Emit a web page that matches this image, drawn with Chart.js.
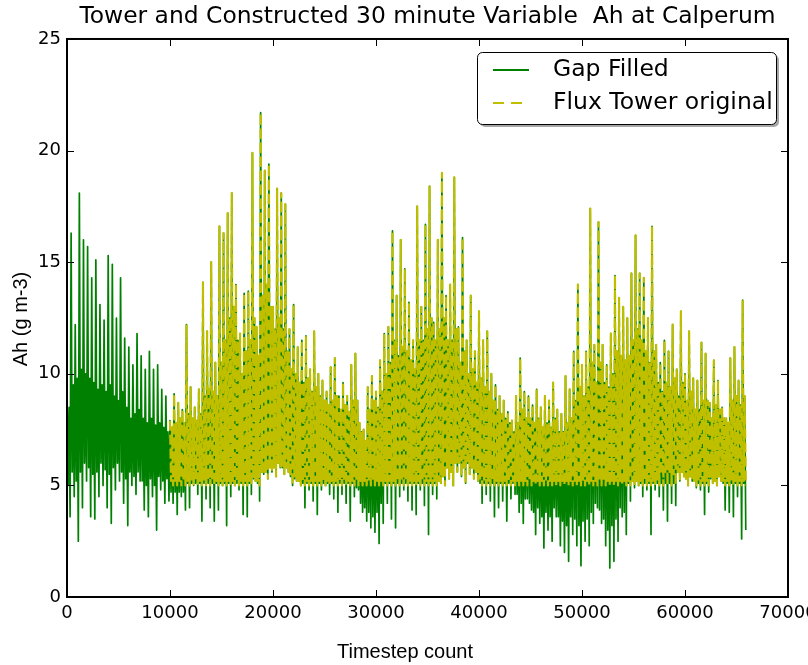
<!DOCTYPE html>
<html>
<head>
<meta charset="utf-8">
<script src="https://cdn.jsdelivr.net/npm/chart.js@4.4.1/dist/chart.umd.min.js"></script>
<style>
  html, body { margin: 0; padding: 0; background: #fff; }
  #wrap { width: 808px; height: 665px; }
</style>
</head>
<body>
<div id="wrap"><canvas id="c" width="808" height="665"></canvas></div>
<script>
/* Calperum Ah, 30 minute steps: gap-filled series vs flux tower original.
   The trace is far too dense to list point by point, so each 400-step bin
   keeps four readings: the highest spike, the lowest spike, and the top and
   bottom edge of the solid body of the trace in that bin. */
const BIN = 400;
const GAP_START = 0;
const TOWER_START = 10000;

// gap filled, bins 0..164 (t = 0 .. 66000)
const gapHigh = [
  9.0, 16.3, 12.2, 18.1, 16.0, 15.7, 14.3, 15.1, 13.1, 12.4, 15.3, 14.9, 12.5, 14.3, 11.6, 11.2, 10.4, 11.8, 10.8, 10.2, 11.0, 10.2, 10.4, 9.3, 9.0,
  7.9, 9.1, 8.7, 8.4, 12.2, 9.4, 8.5, 9.3, 14.1, 11.9, 15.0, 10.5, 16.6, 16.3, 17.2, 18.1, 14.0, 11.8, 13.6, 13.7, 19.9, 12.1, 21.7, 19.1, 19.4, 13.0, 18.3, 18.1, 17.6, 12.0, 13.1, 11.2, 11.5, 11.7, 10.2, 11.9,
  10.0, 9.7, 9.2, 10.3, 10.7, 9.0, 9.6, 9.0, 10.4, 10.9, 7.8, 7.5, 9.4, 9.9, 9.2, 10.6, 11.8, 12.1, 16.4, 13.5, 16.0, 14.7, 13.2, 11.5, 17.5, 13.0, 16.7, 18.4, 12.3, 16.0, 19.0, 13.5, 14.0, 18.8, 12.1, 16.1, 11.5, 13.5, 11.0, 12.8, 11.5, 11.9, 10.0, 9.5, 9.0, 8.8, 8.3, 7.9, 9.0, 10.7, 9.2, 9.0, 8.6, 9.3, 8.5, 9.0, 8.8, 9.6,
  8.4, 8.2, 9.9, 9.3, 11.0, 14.0, 10.4, 11.0, 17.4, 11.3, 16.8, 11.3, 10.4, 11.8, 14.4, 13.4, 13.0, 12.5, 14.5, 16.2, 14.5, 14.3, 12.5, 16.6, 11.3, 10.5, 11.5, 11.0, 12.2, 10.2, 12.8, 10.0, 11.9, 9.8, 9.7, 11.4, 10.9, 8.7, 10.6, 9.7, 8.5, 8.0, 10.7, 11.2, 9.7, 13.3
];
const gapTop = [
  8.5, 9.5, 9.8, 10.2, 10.0, 9.8, 9.6, 9.3, 9.5, 9.2, 9.5, 9.0, 8.8, 9.2, 8.5, 8.0, 8.2, 8.4, 8.0, 7.8, 8.0, 7.7, 7.8, 7.6, 7.4,
  7.6, 7.8, 8.0, 7.8, 8.2, 8.0, 7.9, 8.2, 9.0, 9.3, 9.2, 9.0, 10.5, 11.5, 12.5, 13.0, 11.5, 10.0, 11.0, 11.5, 12.5, 10.8, 13.5, 14.0, 13.0, 12.0, 12.5, 12.0, 11.0, 10.2, 10.0, 9.6, 9.6, 9.8, 9.2, 9.4,
  9.0, 8.8, 8.6, 8.8, 9.0, 8.4, 8.6, 8.3, 8.8, 8.8, 7.4, 7.0, 8.4, 8.8, 8.5, 9.2, 10.0, 10.5, 11.5, 10.8, 11.2, 11.0, 10.6, 10.2, 11.5, 11.5, 12.0, 12.5, 11.5, 12.0, 12.5, 11.5, 11.5, 12.0, 10.5, 11.0, 10.0, 10.2, 9.6, 9.8, 9.4, 9.2, 8.8, 8.4, 8.2, 8.0, 7.8, 7.4, 7.8, 8.4, 8.0, 8.0, 7.8, 8.0, 7.6, 7.8, 7.6, 8.0,
  7.4, 7.4, 7.8, 8.0, 8.8, 9.4, 9.0, 9.4, 10.5, 9.6, 10.5, 9.6, 9.4, 10.0, 11.0, 10.8, 10.6, 10.8, 11.5, 12.0, 11.5, 11.0, 10.5, 11.0, 9.6, 9.2, 9.6, 9.4, 9.8, 9.0, 9.6, 8.8, 9.2, 8.4, 8.4, 8.8, 8.8, 8.0, 8.6, 8.4, 8.0, 7.8, 8.8, 9.0, 8.6, 9.0
];
const gapBottom = [
  5.0, 5.6, 5.2, 5.6, 6.0, 5.8, 5.5, 5.6, 6.0, 5.7, 5.5, 5.8, 6.0, 5.6, 5.3, 5.6, 5.4, 5.6, 5.2, 5.0, 5.3, 5.0, 5.4, 5.2, 5.3,
  4.7, 4.7, 4.7, 4.7, 5.1, 5.1, 5.1, 5.1, 5.1, 5.1, 5.1, 5.1, 5.1, 5.1, 5.1, 5.1, 5.1, 5.1, 5.1, 5.1, 5.3, 5.1, 5.6, 5.6, 5.8, 5.8, 6.0, 5.8, 5.8, 5.4, 5.3, 5.2, 5.1, 5.1, 5.1, 5.1,
  5.1, 5.1, 5.1, 5.1, 5.1, 5.1, 5.1, 5.1, 5.1, 4.9, 4.2, 4.0, 3.8, 3.6, 3.8, 4.2, 5.1, 5.1, 5.1, 5.1, 5.1, 5.1, 5.1, 5.1, 5.1, 5.1, 5.1, 5.1, 5.1, 5.2, 5.4, 5.8, 5.6, 6.0, 6.0, 5.8, 6.0, 5.8, 5.6, 5.1, 5.1, 5.1, 5.1, 5.1, 5.1, 5.1, 5.1, 5.1, 4.6, 4.2, 4.4, 4.2, 3.8, 4.0, 3.6, 3.8, 3.6, 4.0,
  3.6, 3.4, 3.2, 3.6, 3.5, 3.2, 3.4, 3.5, 3.8, 4.2, 3.9, 3.5, 3.0, 3.2, 3.5, 4.0, 3.8, 5.1, 5.2, 5.2, 5.1, 5.1, 5.1, 5.1, 5.1, 5.1, 5.1, 5.1, 5.1, 5.6, 5.6, 5.3, 5.4, 5.2, 5.1, 5.1, 5.1, 5.3, 5.2, 5.4, 5.1, 5.1, 5.1, 5.1, 5.1, 5.1
];
const gapLow = [
  3.6, 4.5, 2.5, 4.0, 5.2, 3.6, 3.5, 4.5, 5.0, 4.0, 3.3, 4.8, 5.2, 4.2, 3.2, 5.0, 4.6, 5.2, 3.9, 3.6, 4.5, 3.0, 4.8, 4.2, 4.3,
  4.2, 3.7, 4.5, 3.9, 4.0, 5.0, 4.6, 3.4, 4.4, 4.0, 3.4, 3.9, 5.0, 3.2, 4.5, 5.0, 4.8, 3.7, 3.6, 4.6, 5.2, 4.3, 5.5, 5.3, 5.6, 5.4, 5.8, 5.5, 5.6, 5.0, 5.2, 5.0, 4.0, 4.8, 4.3, 3.7,
  4.8, 5.0, 4.6, 4.4, 3.8, 4.6, 4.2, 3.4, 4.5, 4.8, 3.8, 3.4, 3.1, 2.9, 2.4, 3.3, 4.2, 3.5, 3.1, 4.5, 4.8, 4.3, 3.9, 3.7, 4.8, 4.1, 2.8, 4.6, 4.4, 5.1, 5.0, 5.3, 5.0, 5.6, 5.4, 5.1, 5.5, 5.3, 5.2, 4.2, 4.6, 4.3, 3.6, 4.0, 4.3, 3.4, 4.4, 4.6, 3.8, 3.3, 4.4, 3.9, 2.8, 3.3, 2.2, 3.0, 2.5, 3.6,
  2.3, 2.0, 1.6, 2.8, 2.3, 1.4, 2.5, 2.3, 3.3, 4.0, 3.3, 2.3, 1.3, 1.6, 2.5, 3.6, 2.8, 4.3, 4.9, 5.0, 4.5, 4.8, 2.8, 4.8, 4.5, 3.9, 3.4, 4.2, 4.1, 5.2, 5.4, 5.0, 5.2, 4.9, 4.8, 3.7, 4.7, 5.1, 5.0, 5.2, 3.9, 3.8, 3.6, 4.5, 2.6, 3.0
];

// flux tower original, bins 25..164 (t = 10000 .. 66000); its floor sits at 5
const towerHigh = [
  7.9, 9.1, 8.7, 8.4, 12.2, 9.4, 8.5, 9.3, 14.1, 11.9, 15.0, 10.5, 16.6, 16.3, 17.2, 18.1, 14.0, 11.8, 13.6, 13.7, 19.9, 12.1, 21.7, 19.1, 19.4, 13.0, 18.3, 18.1, 17.6, 12.0, 13.1, 11.2, 11.5, 11.7, 10.2, 11.9,
  10.0, 9.7, 9.2, 10.3, 10.7, 9.0, 9.6, 9.0, 10.4, 10.9, 7.8, 7.5, 9.4, 9.9, 9.2, 10.6, 11.8, 12.1, 16.4, 13.5, 16.0, 14.7, 13.2, 11.5, 17.5, 13.0, 16.7, 18.4, 12.3, 16.0, 19.0, 13.5, 14.0, 18.8, 12.1, 16.1, 11.5, 13.5, 11.0, 12.8, 11.5, 11.9, 10.0, 9.5, 9.0, 8.8, 8.3, 7.9, 9.0, 10.7, 9.2, 9.0, 8.6, 9.3, 8.5, 9.0, 8.8, 9.6,
  8.4, 8.2, 9.9, 9.3, 11.0, 14.0, 10.4, 11.0, 17.4, 11.3, 16.8, 11.3, 10.4, 11.8, 14.4, 13.4, 13.0, 12.5, 14.5, 16.2, 14.5, 14.3, 12.5, 16.6, 11.3, 10.5, 11.5, 11.0, 12.2, 10.2, 12.8, 10.0, 11.9, 9.8, 9.7, 11.4, 10.9, 8.7, 10.6, 9.7, 8.5, 8.0, 10.7, 11.2, 9.7, 13.3
];
const towerTop = [
  7.6, 7.8, 8.0, 7.8, 8.2, 8.0, 7.9, 8.2, 9.0, 9.3, 9.2, 9.0, 10.5, 11.5, 12.5, 13.0, 11.5, 10.0, 11.0, 11.5, 12.5, 10.8, 13.5, 14.0, 13.0, 12.0, 12.5, 12.0, 11.0, 10.2, 10.0, 9.6, 9.6, 9.8, 9.2, 9.4,
  9.0, 8.8, 8.6, 8.8, 9.0, 8.4, 8.6, 8.3, 8.8, 8.8, 7.4, 7.0, 8.4, 8.8, 8.5, 9.2, 10.0, 10.5, 11.5, 10.8, 11.2, 11.0, 10.6, 10.2, 11.5, 11.5, 12.0, 12.5, 11.5, 12.0, 12.5, 11.5, 11.5, 12.0, 10.5, 11.0, 10.0, 10.2, 9.6, 9.8, 9.4, 9.2, 8.8, 8.4, 8.2, 8.0, 7.8, 7.4, 7.8, 8.4, 8.0, 8.0, 7.8, 8.0, 7.6, 7.8, 7.6, 8.0,
  7.4, 7.4, 7.8, 8.0, 8.8, 9.4, 9.0, 9.4, 10.5, 9.6, 10.5, 9.6, 9.4, 10.0, 11.0, 10.8, 10.6, 10.8, 11.5, 12.0, 11.5, 11.0, 10.5, 11.0, 9.6, 9.2, 9.6, 9.4, 9.8, 9.0, 9.6, 8.8, 9.2, 8.4, 8.4, 8.8, 8.8, 8.0, 8.6, 8.4, 8.0, 7.8, 8.8, 9.0, 8.6, 9.0
];
const towerBottom = [
  5.2, 5.2, 5.2, 5.2, 5.2, 5.2, 5.2, 5.2, 5.2, 5.2, 5.2, 5.2, 5.2, 5.2, 5.2, 5.2, 5.2, 5.2, 5.2, 5.2, 5.3, 5.2, 5.6, 5.6, 5.8, 5.8, 6.0, 5.8, 5.8, 5.4, 5.4, 5.2, 5.2, 5.2, 5.2, 5.2,
  5.2, 5.2, 5.2, 5.2, 5.2, 5.2, 5.2, 5.2, 5.2, 5.2, 5.2, 5.2, 5.2, 5.2, 5.2, 5.2, 5.2, 5.2, 5.2, 5.2, 5.2, 5.2, 5.2, 5.2, 5.2, 5.2, 5.2, 5.2, 5.2, 5.2, 5.4, 5.8, 5.6, 6.0, 6.0, 5.8, 6.0, 5.8, 5.6, 5.3, 5.2, 5.2, 5.2, 5.2, 5.2, 5.2, 5.2, 5.2, 5.2, 5.2, 5.2, 5.2, 5.2, 5.2, 5.2, 5.2, 5.2, 5.2,
  5.2, 5.2, 5.2, 5.2, 5.2, 5.2, 5.2, 5.2, 5.2, 5.2, 5.2, 5.2, 5.2, 5.2, 5.2, 5.2, 5.2, 5.2, 5.2, 5.2, 5.2, 5.2, 5.2, 5.2, 5.2, 5.5, 5.6, 5.6, 5.5, 5.6, 5.6, 5.3, 5.4, 5.2, 5.2, 5.2, 5.2, 5.3, 5.2, 5.4, 5.2, 5.2, 5.2, 5.2, 5.2, 5.2
];
const towerLow = [
  5.0, 5.0, 5.0, 5.0, 5.0, 5.0, 5.0, 5.0, 5.0, 5.0, 5.0, 5.0, 5.0, 5.0, 5.0, 5.0, 5.0, 5.0, 5.0, 5.0, 5.2, 5.0, 5.5, 5.3, 5.6, 5.4, 5.8, 5.5, 5.6, 5.0, 5.2, 5.0, 5.0, 5.0, 5.0, 5.0,
  5.0, 5.0, 5.0, 5.0, 5.0, 5.0, 5.0, 5.0, 5.0, 5.0, 5.0, 5.0, 5.0, 5.0, 5.0, 5.0, 5.0, 5.0, 5.0, 5.0, 5.0, 5.0, 5.0, 5.0, 5.0, 5.0, 5.0, 5.0, 5.0, 5.1, 5.0, 5.3, 5.0, 5.6, 5.4, 5.1, 5.5, 5.3, 5.2, 5.0, 5.0, 5.0, 5.0, 5.0, 5.0, 5.0, 5.0, 5.0, 5.0, 5.0, 5.0, 5.0, 5.0, 5.0, 5.0, 5.0, 5.0, 5.0,
  5.0, 5.0, 5.0, 5.0, 5.0, 5.0, 5.0, 5.0, 5.0, 5.0, 5.0, 5.0, 5.0, 5.0, 5.0, 5.0, 5.0, 5.0, 5.0, 5.0, 5.0, 5.0, 5.0, 5.0, 5.0, 5.0, 5.0, 5.0, 5.0, 5.2, 5.4, 5.0, 5.2, 5.0, 5.0, 5.0, 5.0, 5.1, 5.0, 5.2, 5.0, 5.0, 5.0, 5.0, 5.0, 5.0
];

const xTicks = [0, 10000, 20000, 30000, 40000, 50000, 60000, 70000];
const yTicks = [0, 5, 10, 15, 20, 25];

const GREEN = "#008000", YELLOW = "#bfbf00";
const DASH = [10, 4];

// one bin -> spike up, body bottom, body top, spike down, a quarter bin apart
function binPoints(start, hi, bottom, top, lo) {
  return hi.flatMap((h, i) => {
    const x0 = start + i * BIN;
    return [
      { x: x0, y: h },
      { x: x0 + BIN / 4, y: bottom[i] },
      { x: x0 + BIN / 2, y: top[i] },
      { x: x0 + 3 * BIN / 4, y: lo[i] },
    ];
  });
}

/* frame, inward ticks on all four sides, axis labels, legend box */
const decor = {
  id: "decor",
  afterDatasetsDraw(chart) {
    const { ctx, chartArea: a, scales: { x, y } } = chart;
    ctx.save();
    ctx.strokeStyle = "#000";
    ctx.lineWidth = 1;
    ctx.beginPath();
    xTicks.forEach(v => {
      const px = Math.round(x.getPixelForValue(v)) + 0.5;
      ctx.moveTo(px, a.bottom); ctx.lineTo(px, a.bottom - 7);
      ctx.moveTo(px, a.top); ctx.lineTo(px, a.top + 7);
    });
    yTicks.forEach(v => {
      const py = Math.round(y.getPixelForValue(v)) + 0.5;
      ctx.moveTo(a.left, py); ctx.lineTo(a.left + 7, py);
      ctx.moveTo(a.right, py); ctx.lineTo(a.right - 7, py);
    });
    ctx.stroke();
    ctx.lineWidth = 2;
    ctx.strokeRect(a.left, a.top, a.right - a.left, a.bottom - a.top);
    ctx.restore();
  },
  afterDraw(chart) {
    const { ctx } = chart;
    ctx.save();
    ctx.fillStyle = "#000";
    ctx.font = "20px 'Liberation Sans', Arial, sans-serif";
    ctx.textAlign = "center";
    ctx.textBaseline = "alphabetic";
    ctx.fillText("Timestep count", 405, 658);
    ctx.translate(27, 319);
    ctx.rotate(-Math.PI / 2);
    ctx.fillText("Ah (g m-3)", 0, 0);
    ctx.restore();

    // legend
    const L = 477, T = 52, W = 299, H = 72;
    ctx.save();
    ctx.fillStyle = "rgba(0,0,0,0.35)";
    ctx.beginPath(); ctx.roundRect(L + 3, T + 3, W, H, 5); ctx.fill();
    ctx.fillStyle = "#fff";
    ctx.strokeStyle = "#000";
    ctx.lineWidth = 1;
    ctx.beginPath(); ctx.roundRect(L + 0.5, T + 0.5, W, H, 5); ctx.fill(); ctx.stroke();
    chart.data.datasets.forEach((ds, i) => {
      const cy = T + 18 + i * 33;
      ctx.strokeStyle = ds.borderColor;
      ctx.lineWidth = 2;
      ctx.setLineDash(ds.borderDash ? [11, 7] : []);
      ctx.beginPath(); ctx.moveTo(493, cy); ctx.lineTo(529, cy); ctx.stroke();
      ctx.setLineDash([]);
      ctx.fillStyle = "#000";
      ctx.font = "23.5px 'DejaVu Sans', sans-serif";
      ctx.textBaseline = "middle";
      ctx.fillText(ds.label, 553, cy);
    });
    ctx.restore();
  },
};

new Chart(document.getElementById("c"), {
  type: "line",
  data: {
    datasets: [
      { label: "Gap Filled", data: binPoints(GAP_START, gapHigh, gapBottom, gapTop, gapLow),
        borderColor: GREEN, borderWidth: 1.7, order: 2 },
      { label: "Flux Tower original", data: binPoints(TOWER_START, towerHigh, towerBottom, towerTop, towerLow),
        borderColor: YELLOW, borderWidth: 2.2, borderDash: DASH, order: 1 },
    ],
  },
  options: {
    responsive: false, animation: false, parsing: false, normalized: true,
    layout: { padding: { left: 0, right: 20, top: 0, bottom: 0 } },
    elements: {
      point: { radius: 0, hoverRadius: 0 },
      line: { tension: 0, borderJoinStyle: "round", fill: false },
    },
    plugins: {
      legend: { display: false },
      tooltip: { enabled: false },
      title: {
        display: true, fullSize: false,
        text: "Tower and Constructed 30 minute Variable  Ah at Calperum",
        color: "#000", font: { family: "'DejaVu Sans', sans-serif", size: 23.4, weight: "normal", lineHeight: 1.2 },
        padding: { top: 3, bottom: 7.9 },
      },
    },
    scales: {
      x: {
        type: "linear", min: 0, max: 70000,
        grid: { display: false, drawTicks: false }, border: { display: false },
        afterBuildTicks: s => { s.ticks = xTicks.map(v => ({ value: v })); },
        afterFit: s => { s.height = 68; s.paddingLeft = 0; s.paddingRight = 0; },
        ticks: { color: "#000", padding: 6, maxRotation: 0, autoSkip: false,
          font: { family: "'DejaVu Sans', sans-serif", size: 18 }, callback: v => String(v) },
      },
      y: {
        type: "linear", min: 0, max: 25,
        grid: { display: false, drawTicks: false }, border: { display: false },
        afterBuildTicks: s => { s.ticks = yTicks.map(v => ({ value: v })); },
        afterFit: s => { s.width = 67; s.paddingTop = 0; s.paddingBottom = 0; },
        ticks: { color: "#000", padding: 6,
          font: { family: "'DejaVu Sans', sans-serif", size: 18 }, callback: v => String(v) },
      },
    },
  },
  plugins: [decor],
});
</script>
</body>
</html>
